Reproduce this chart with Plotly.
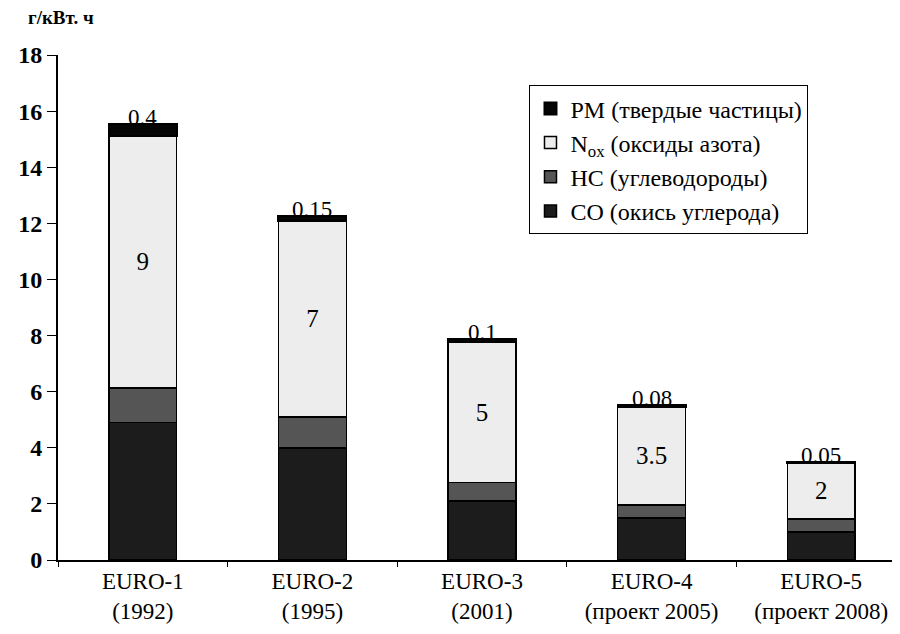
import plotly.graph_objects as go

# categories and limits, g/kWh
categories = ['EURO-1<br>(1992)', 'EURO-2<br>(1995)', 'EURO-3<br>(2001)',
              'EURO-4<br>(проект 2005)', 'EURO-5<br>(проект 2008)']
co_vals = [4.9, 4.0, 2.1, 1.5, 1.0]
hc_vals = [1.23, 1.1, 0.66, 0.46, 0.46]
nox_vals = [9, 7, 5, 3.5, 2]
pm_vals = [0.4, 0.15, 0.1, 0.08, 0.05]
nox_labels = ['9', '7', '5', '3.5', '2']
pm_labels = ['0.4', '0.15', '0.1', '0.08', '0.05']
y_ticks = [0, 2, 4, 6, 8, 10, 12, 14, 16, 18]

serif = 'Liberation Serif'
line = dict(color='black', width=1.5)

fig = go.Figure()
fig.add_trace(go.Bar(x=categories, y=co_vals, name='CO (окись углерода)', width=0.4,
                     marker=dict(color='#1c1c1c', line=line)))
fig.add_trace(go.Bar(x=categories, y=hc_vals, name='HC (углеводороды)', width=0.4,
                     marker=dict(color='#555555', line=line)))
fig.add_trace(go.Bar(
    x=categories, y=nox_vals, name='N<sub>ox</sub> (оксиды азота)', width=0.4,
    text=nox_labels, textposition='inside', insidetextanchor='middle',
    textangle=0, textfont=dict(family=serif, size=25, color='black'),
    marker=dict(color='#ededed', line=line)))
fig.add_trace(go.Bar(x=categories, y=pm_vals, name='PM (твердые частицы)', width=0.4,
                     marker=dict(color='#050505', line=dict(color='black', width=2))))

# PM values written just over the top of each bar
for i, cat in enumerate(categories):
    total = co_vals[i] + hc_vals[i] + nox_vals[i] + pm_vals[i]
    fig.add_annotation(x=cat, y=total, text=pm_labels[i], showarrow=False,
                       yanchor='bottom', yshift=-8,
                       font=dict(family=serif, size=23, color='black'))

fig.add_annotation(x=-0.038, y=1.05, xref='paper', yref='paper', xanchor='left',
                   yanchor='bottom', text='<b>г/кВт. ч</b>', showarrow=False,
                   font=dict(family=serif, size=19, color='black'))

fig.update_layout(
    width=900, height=634,
    barmode='stack',
    plot_bgcolor='white', paper_bgcolor='white',
    margin=dict(l=50, r=2, t=47, b=82),
    font=dict(family=serif, color='black'),
    showlegend=True,
    legend=dict(x=0.556, y=0.94, xanchor='left', yanchor='top',
                traceorder='reversed', bordercolor='black', borderwidth=1,
                bgcolor='white', font=dict(family=serif, size=24, color='black')),
    xaxis=dict(showline=True, linecolor='black', linewidth=1.5,
               ticks='outside', ticklen=5, tickcolor='black', tickson='boundaries',
               tickfont=dict(family=serif, size=23, color='black')),
    yaxis=dict(range=[0, 18], tickvals=y_ticks,
               ticktext=['<b>%d</b>' % v for v in y_ticks],
               showline=True, linecolor='black',
               linewidth=2, ticks='outside', ticklen=9, tickcolor='black',
               showgrid=False, zeroline=False,
               tickfont=dict(family=serif, size=24, color='black')),
)

fig.write_html("out.html")
